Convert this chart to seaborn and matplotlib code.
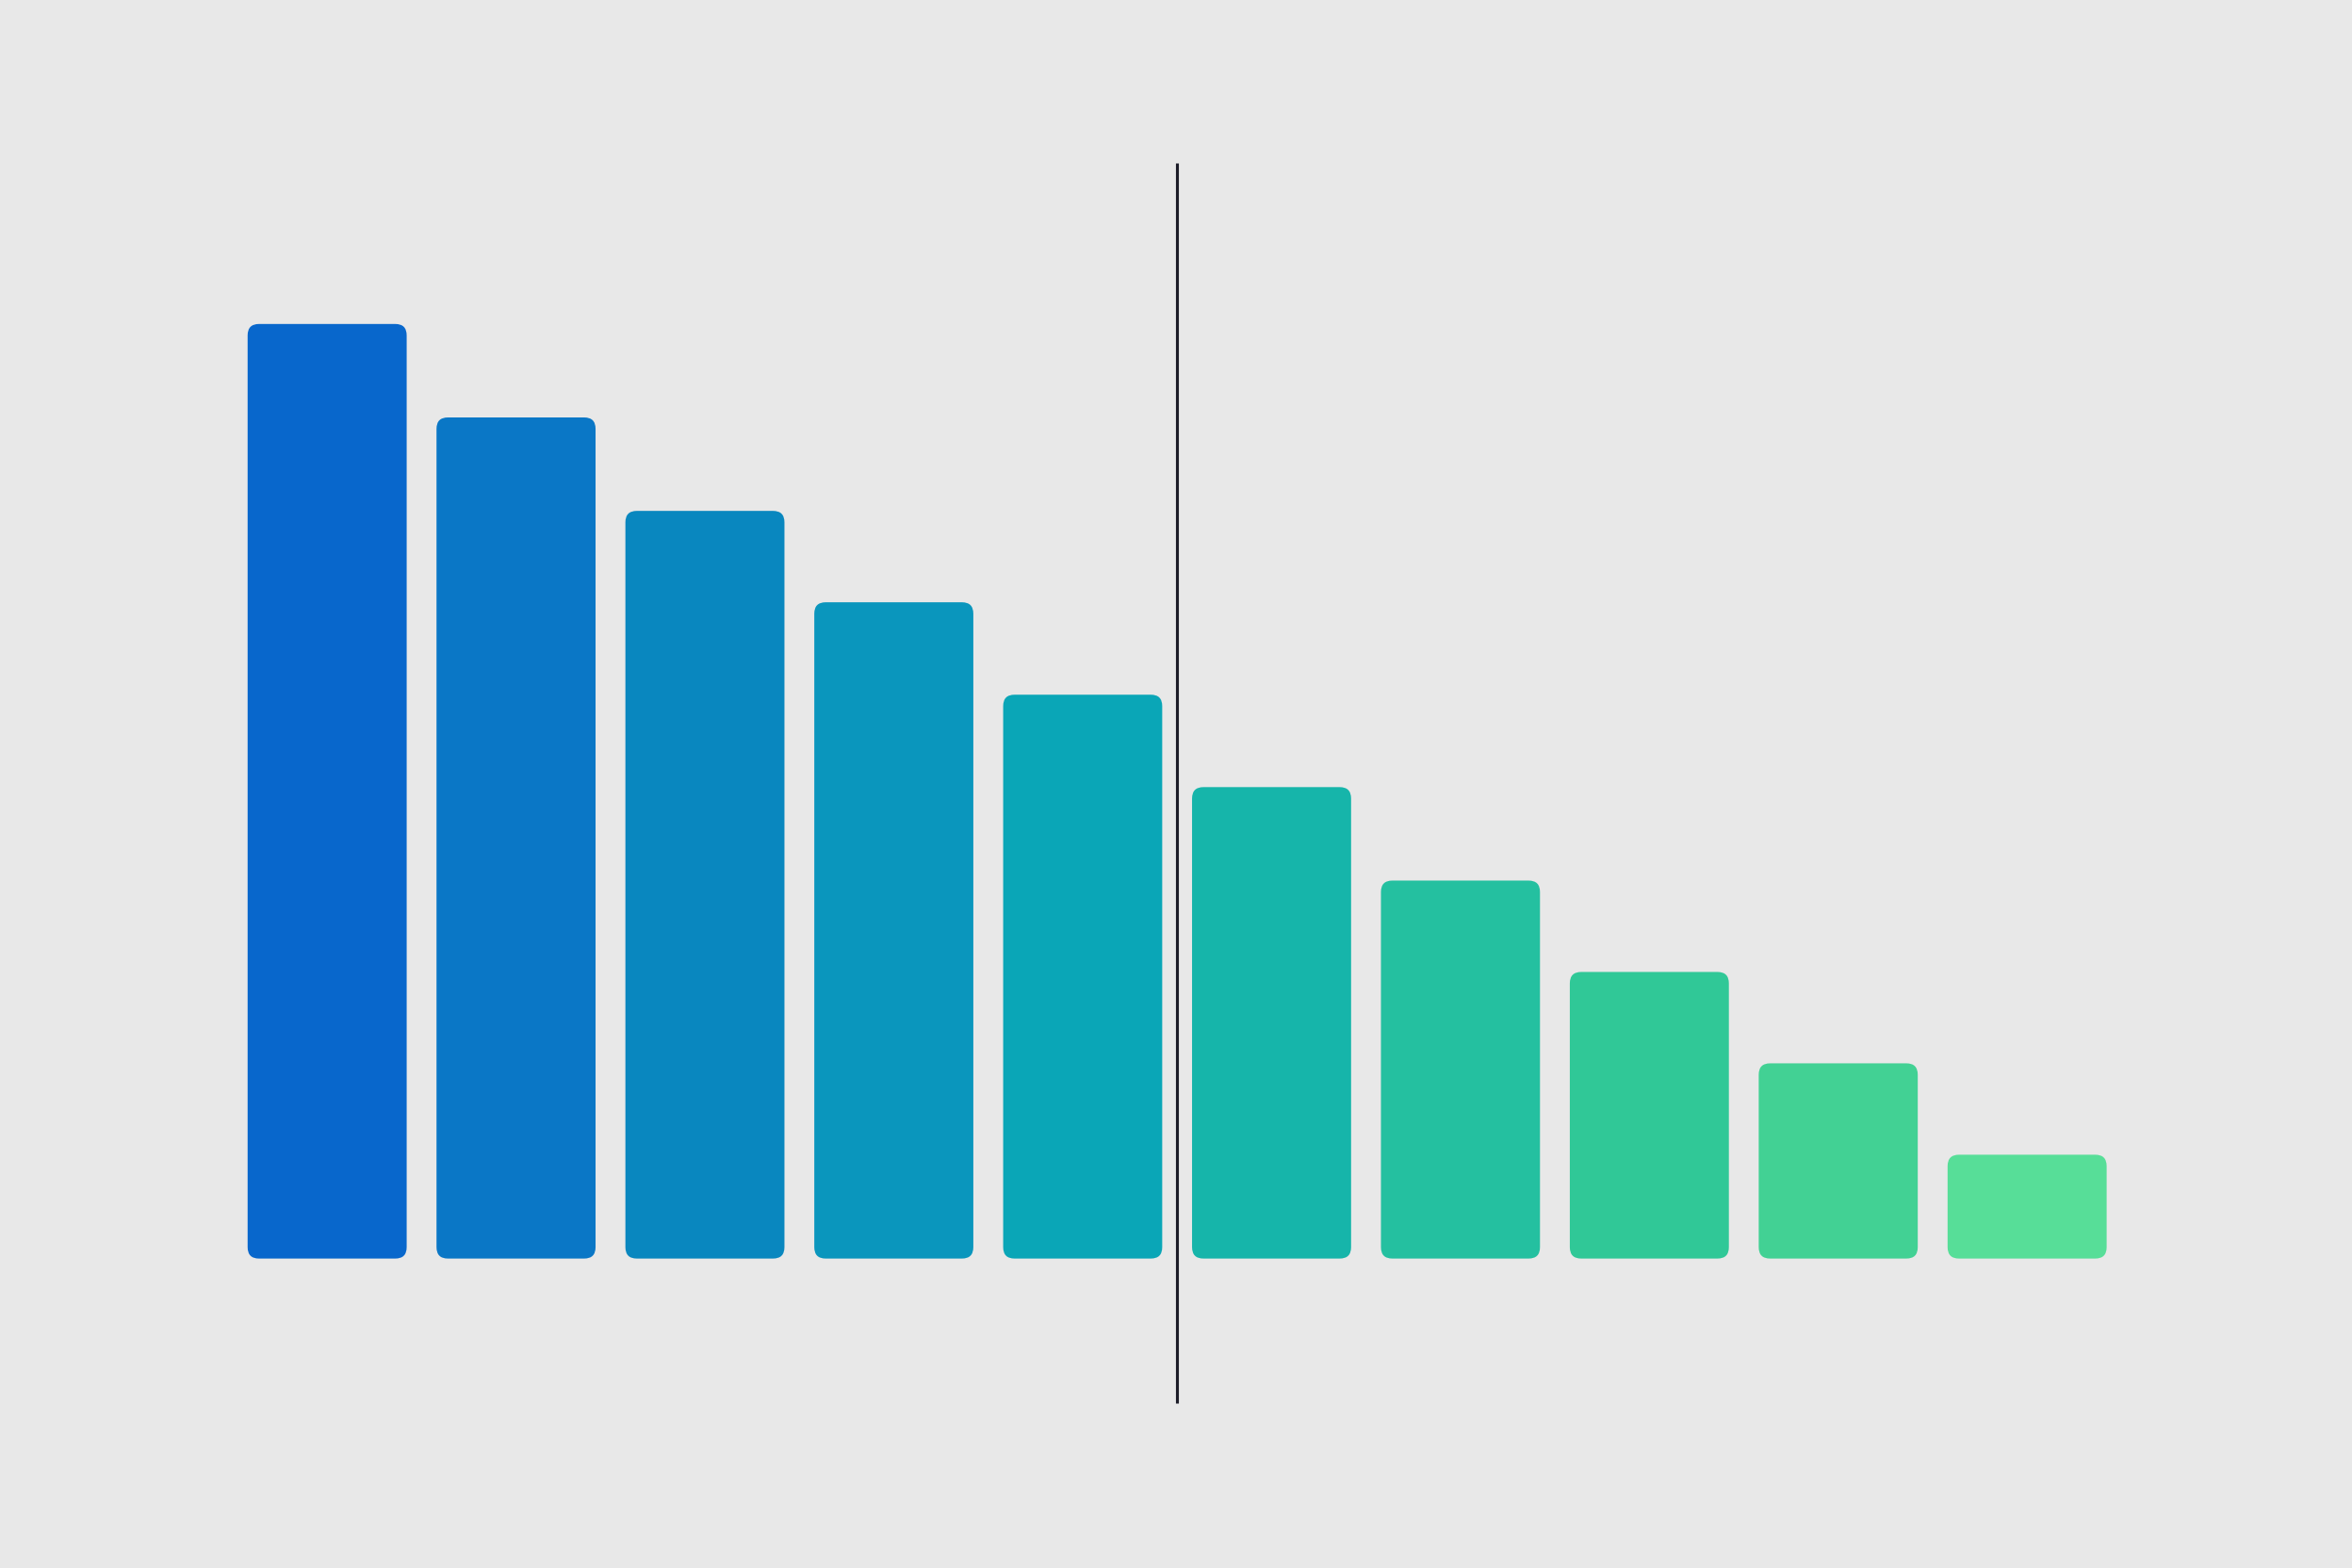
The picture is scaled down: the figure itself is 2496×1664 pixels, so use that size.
import numpy as np
import pandas as pd
import seaborn as sns
import matplotlib.pyplot as plt
from matplotlib.patches import FancyBboxPatch

# bar data
categories = ['A', 'B', 'C', 'D', 'E', 'F', 'G', 'H', 'I', 'J']
values = [90, 81, 72, 63.2, 54.3, 45.4, 36.4, 27.6, 18.8, 10]
divider_pos = 4.5
divider_span = (-13.9, 105.5)

df = pd.DataFrame({'Category': categories, 'Value': values})
palette = ['#0867cc', '#0a77c6', '#0987bf', '#0a96bd', '#0aa6b7',
           '#16b5aa', '#24c0a0', '#30c897', '#42d194', '#57de98']

sns.set_style("white")
fig = plt.figure(figsize=(15.6, 10.4), dpi=160, facecolor='#e8e8e8')
ax = fig.add_axes([0, 0, 1, 1])
ax.set_facecolor('#e8e8e8')

sns.barplot(data=df, x='Category', y='Value', hue='Category', palette=palette,
            width=0.842, legend=False, ax=ax, saturation=1)

ax.set_xlim(-1.732, 10.72)
ax.set_ylim(-29.8, 121.2)

# swap plain rectangles for rounded ones
aspect = (1 / 6.92) / (1 / 125.9)
for p in list(ax.patches):
    x, y = p.get_x(), p.get_y()
    w, h = p.get_width(), p.get_height()
    fc = p.get_facecolor()
    p.remove()
    ax.add_patch(FancyBboxPatch((x, y), w, h,
                                boxstyle="round,pad=0,rounding_size=0.06",
                                mutation_aspect=aspect, facecolor=fc,
                                edgecolor='none', zorder=2))

ax.vlines(divider_pos, divider_span[0], divider_span[1], color='#1c1c28',
          linewidth=1.4, zorder=3)

ax.set_axis_off()
fig.savefig('out.png', dpi=160, facecolor=fig.get_facecolor())
